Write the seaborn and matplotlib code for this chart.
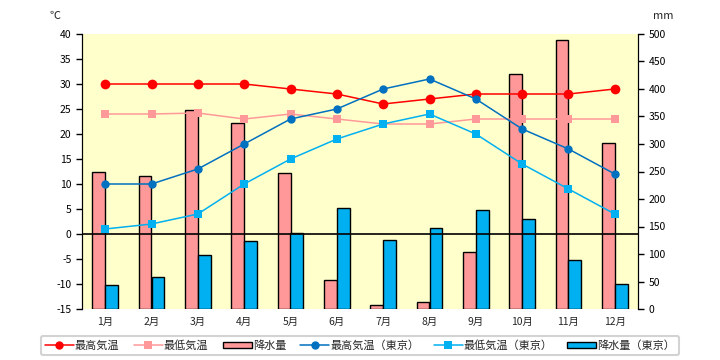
import matplotlib
matplotlib.use("Agg")
from matplotlib import pyplot as plt
from matplotlib.patches import Patch
from matplotlib.lines import Line2D
import numpy as np
import pandas
import seaborn as sns

# Data
months = ["1月", "2月", "3月", "4月", "5月", "6月", "7月", "8月", "9月", "10月", "11月", "12月"]
high_temp = [30, 30, 30, 30, 29, 28, 26, 27, 28, 28, 28, 29]
low_temp = [24, 24, 24.2, 23, 24, 23, 22, 22, 23, 23, 23, 23]
rain = [249, 241, 361, 338, 247, 52, 7, 12, 103, 427, 489, 301]
high_tokyo = [10, 10, 13, 18, 23, 25, 29, 31, 27, 21, 17, 12]
low_tokyo = [1, 2, 4, 10, 15, 19, 22, 24, 20, 14, 9, 4]
rain_tokyo = [43, 59, 99, 123, 138, 183, 125, 147, 180, 163, 89, 45]

c_red = "#FF0000"
c_pink = "#FF9999"
c_blue = "#0070C0"
c_sky = "#00B0F0"
bg = "#FFFFCC"

sns.set_style("white")
plt.rcParams['font.family'] = ['Noto Sans CJK JP', 'DejaVu Sans']
plt.rcParams['axes.unicode_minus'] = False

fig = plt.figure(figsize=(7.2, 3.6), dpi=100)
ax = fig.add_axes([82 / 720, 1 - 309 / 360, 556 / 720, 275 / 360])
ax.set_facecolor(bg)

# Bars (right axis, mm)
df_bar = pandas.DataFrame({
    "month": months * 2,
    "mm": rain + rain_tokyo,
    "series": ["降水量"] * 12 + ["降水量（東京）"] * 12,
})
sns.barplot(data=df_bar, x="month", y="mm", hue="series", palette=[c_pink, c_sky],
            edgecolor="black", linewidth=1, width=0.56, ax=ax, legend=False, saturation=1)
ax.set_ylim(0, 500)
ax.set_yticks(np.arange(0, 501, 50))
ax.set_xlim(-0.5, 11.5)

# Lines (left axis, degC)
ax2 = ax.twinx()
ax.yaxis.tick_right()
ax2.yaxis.tick_left()
x = np.arange(12)
sns.lineplot(x=x, y=high_temp, ax=ax2, color=c_red, linewidth=1.1, marker="o", markersize=7,
             markeredgewidth=0)
sns.lineplot(x=x, y=low_temp, ax=ax2, color=c_pink, linewidth=1.1, marker="s", markersize=6,
             markeredgewidth=0)
sns.lineplot(x=x, y=high_tokyo, ax=ax2, color=c_blue, linewidth=1.1, marker="o", markersize=6,
             markeredgewidth=0)
sns.lineplot(x=x, y=low_tokyo, ax=ax2, color=c_sky, linewidth=1.1, marker="s", markersize=6,
             markeredgewidth=0)
ax2.axhline(0, color="black", linewidth=1.2)
ax2.set_ylim(-15, 40)
ax2.set_yticks(np.arange(-15, 41, 5))

# Axis styling
for a in (ax, ax2):
    a.set_xlabel("")
    a.set_ylabel("")
    for s in ("top", "bottom"):
        a.spines[s].set_visible(False)
    a.spines["left"].set_color("black")
    a.spines["right"].set_color("black")
    a.tick_params(axis="y", length=4, width=1, labelsize=7.5, colors="black", direction="out")
ax.tick_params(axis="x", length=0, labelsize=7.5, pad=6)
ax2.tick_params(axis="x", bottom=False, labelbottom=False)

fig.text(55 / 720, 1 - 16 / 360, "℃", fontsize=8, ha="center", va="center")
fig.text(663 / 720, 1 - 16 / 360, "mm", fontsize=8, ha="center", va="center")

# Legend
handles = [
    Line2D([0], [0], color=c_red, marker="o", markersize=6, markeredgewidth=0, linewidth=1.1),
    Line2D([0], [0], color=c_pink, marker="s", markersize=6, markeredgewidth=0, linewidth=1.1),
    Patch(facecolor=c_pink, edgecolor="black", linewidth=1),
    Line2D([0], [0], color=c_blue, marker="o", markersize=6, markeredgewidth=0, linewidth=1.1),
    Line2D([0], [0], color=c_sky, marker="s", markersize=6, markeredgewidth=0, linewidth=1.1),
    Patch(facecolor=c_sky, edgecolor="black", linewidth=1),
]
labels = ["最高気温", "最低気温", "降水量", "最高気温（東京）", "最低気温（東京）", "降水量（東京）"]
leg = fig.legend(handles, labels, loc="center", bbox_to_anchor=(360 / 720, 1 - 345.5 / 360),
                 ncol=6, fontsize=8, frameon=True, fancybox=True, handlelength=2.6,
                 handleheight=0.5, columnspacing=1.3, handletextpad=0.1, borderpad=0.35)
leg.get_frame().set_edgecolor("#C8C8C8")
leg.get_frame().set_linewidth(1.5)

plt.savefig("out.png", dpi=100)
